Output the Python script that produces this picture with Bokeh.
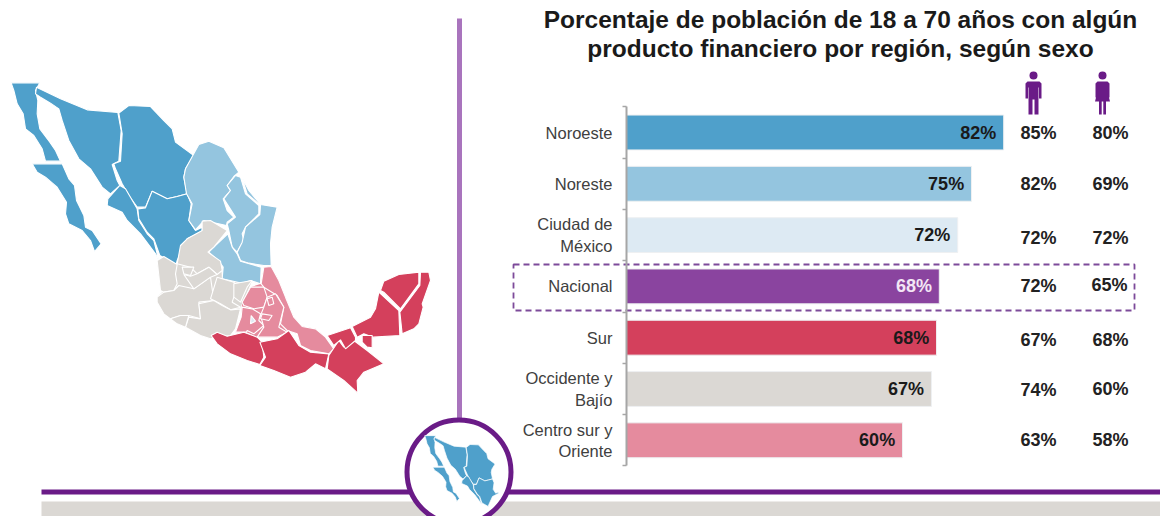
from bokeh.embed import file_html
from bokeh.resources import INLINE
from bokeh.plotting import figure
from bokeh.models import Range1d, LinearAxis, FixedTicker
from bokeh.core.properties import value

categories = ["Noroeste", "Noreste", "Ciudad de\nMéxico", "Nacional", "Sur", "Occidente y\nBajío", "Centro sur y\nOriente"]
totals = [82, 75, 72, 68, 67.4, 66.3, 60]
total_labels = ["82%", "75%", "72%", "68%", "68%", "67%", "60%"]
men = ["85%", "82%", "72%", "72%", "67%", "74%", "63%"]
women = ["80%", "69%", "72%", "65%", "68%", "60%", "58%"]
bar_colors = ["#4fa0cb", "#94c5df", "#ddeaf3", "#8a449f", "#d4405c", "#dbd8d4", "#e58b9e"]
label_colors = ["#1a1a1a", "#1a1a1a", "#1a1a1a", "#f3e6f5", "#1a1a1a", "#1a1a1a", "#1a1a1a"]
title_lines = "Porcentaje de población de 18 a 70 años con algún\nproducto financiero por región, según sexo"

BLUE, LBLUE, GRAY, PINK, RED = "#4fa0cb", "#94c5df", "#dbd8d4", "#e58b9e", "#d4405c"

noroeste = [
    [(32,37),(118,37),(105,60),(112,90),(110,130),(118,175),(148,215),(165,240),(180,272),(135,272),(125,235),(100,195),(75,175),(68,130),(50,100),(40,60)],
    [(95,280),(185,280),(205,325),(222,345),(228,390),(250,435),(255,470),(275,480),(302,520),(282,543),(270,510),(245,480),(205,460),(195,430),(198,395),(170,350),(135,320),(110,305)],
    [(108,50),(180,85),(260,118),(352,126),(362,180),(355,272),(335,282),(350,330),(358,345),(330,370),(305,350),(270,295),(235,265),(205,210),(185,150),(175,115),(150,98),(120,80),(105,70)],
    [(355,128),(385,105),(450,108),(490,150),(515,175),(525,215),(580,255),(555,295),(550,320),(560,370),(530,378),(500,385),(455,362),(435,410),(410,410),(385,375),(365,340),(345,295),(340,280),(360,272),(365,190)],
    [(358,345),(375,355),(410,415),(415,450),(440,490),(460,510),(475,570),(465,550),(420,490),(380,450),(365,425),(320,405),(322,385)],
    [(435,412),(455,362),(500,385),(530,378),(560,370),(572,400),(565,450),(585,480),(605,470),(605,482),(560,505),(530,570),(527,582),(478,555),(460,505),(440,485),(415,445),(412,415)],
]
noreste = [
    [(555,295),(595,222),(625,212),(670,232),(715,305),(700,318),(680,345),(690,360),(668,385),(680,420),(700,440),(680,455),(678,465),(610,450),(585,478),(565,450),(575,400),(558,370),(550,320)],
    [(705,315),(720,320),(735,370),(775,405),(775,430),(735,470),(725,490),(730,510),(715,535),(710,545),(695,530),(685,480),(680,460),(705,440),(670,385),(690,360),(680,345)],
    [(725,322),(745,360),(780,402),(830,410),(815,470),(810,520),(812,585),(790,585),(745,578),(720,570),(710,545),(725,515),(735,470),(778,432),(780,405),(740,370)],
    [(682,490),(695,530),(710,550),(720,572),(782,590),(780,640),(750,630),(725,638),(665,625),(668,590),(655,572),(625,545),(640,530)],
]
occidente_base = [[(605,452),(630,450),(680,480),(640,530),(622,545),(660,572),(665,625),(725,638),(755,630),(720,710),(705,775),(690,795),(630,805),(600,795),(555,770),(530,760),(510,745),(490,730),(470,695),(470,680),(490,660),(480,660),(470,570),(490,558),(530,582),(540,525),(560,505),(605,480)]]
occidente = [
    [(605,452),(630,450),(680,480),(640,530),(622,545),(660,572),(665,600),(650,612),(625,590),(590,610),(570,590),(530,580),(540,525),(560,505),(605,480)],
    [(470,570),(490,558),(530,582),(525,610),(530,640),(520,660),(490,665),(480,660)],
    [(545,590),(580,590),(570,615),(550,610)],
    [(470,680),(490,665),(520,660),(535,645),(580,655),(630,620),(640,690),(595,695),(600,745),(565,735),(540,735),(510,745),(490,730),(470,695)],
    [(580,655),(550,612),(570,617),(590,610),(625,590),(650,612),(630,620)],
    [(630,685),(650,620),(700,635),(710,650),(695,695),(720,710),(690,718),(660,700)],
    [(700,640),(755,630),(740,650),(720,695),(700,680)],
    [(595,700),(640,690),(665,705),(690,718),(720,715),(705,775),(690,795),(630,805),(600,795),(555,770),(565,740),(600,745)],
    [(510,745),(540,735),(565,735),(555,770),(530,760)],
]
centro_base = [[(790,590),(812,588),(835,630),(855,680),(880,740),(905,768),(945,775),(975,800),(1000,835),(985,850),(930,840),(900,825),(890,790),(860,780),(830,800),(770,800),(738,785),(705,785),(722,740),(725,695),(750,650),(782,640)]]
centro = [
    [(790,590),(812,588),(835,630),(855,680),(880,740),(905,768),(945,775),(975,800),(1000,835),(985,850),(930,840),(900,825),(890,790),(860,780),(840,760),(850,710),(830,675),(790,650),(782,640)],
    [(725,695),(750,650),(790,650),(800,680),(790,710),(760,715),(730,705)],
    [(725,710),(755,715),(780,730),(775,750),(790,765),(760,790),(740,780),(738,785),(705,785),(722,740)],
    [(800,680),(825,670),(850,710),(835,770),(860,785),(830,800),(770,800),(790,770),(780,735),(790,710)],
    [(785,730),(815,735),(805,750),(780,745)],
    [(800,685),(815,680),(820,700),(805,705)],
]
cdmx = [[(752,735),(765,752),(750,760)]]
sur = [
    [(632,795),(650,785),(680,797),(730,785),(770,800),(785,815),(790,860),(778,882),(740,870),(690,850),(650,820)],
    [(778,815),(830,805),(865,780),(895,825),(930,845),(985,850),(975,895),(945,880),(915,905),(870,920),(820,900),(778,885),(795,860)],
    [(985,855),(1015,810),(1030,830),(1060,810),(1100,840),(1150,880),(1090,905),(1070,930),(1072,968),(1030,930),(980,895)],
    [(980,795),(1050,772),(1065,800),(1065,810),(1035,835),(1020,808),(1000,825)],
    [(1055,768),(1110,740),(1125,715),(1135,665),(1195,720),(1198,795),(1118,800),(1090,790),(1070,800)],
    [(1085,795),(1115,795),(1115,832),(1100,830),(1085,815)],
    [(1140,660),(1150,632),(1195,612),(1255,605),(1255,640),(1200,715),(1150,665)],
    [(1260,605),(1285,605),(1290,630),(1265,700),(1268,710),(1255,760),(1240,775),(1205,790),(1198,725),(1258,645)],
]
man_icon = [(-6,10),(6,10),(8,12),(8,27),(5.5,27),(5.5,16),(5,16),(5,43),(1,43),(1,28),(-1,28),(-1,43),(-5,43),(-5,16),(-5.5,16),(-5.5,27),(-8,27),(-8,12)]
woman_icon = [(-5,10),(5,10),(7,12),(7,26),(5,26),(4.5,18),(7.5,30),(3.5,30),(3.5,43),(0.8,43),(0.8,30),(-0.8,30),(-0.8,43),(-3.5,43),(-3.5,30),(-7.5,30),(-4.5,18),(-5,26),(-7,26),(-7,12)]

W, H = 1160, 516
X0 = 626
p = figure(width=W, height=H, output_backend="svg", toolbar_location=None,
           x_range=Range1d(-X0 / 4.6, (W - X0) / 4.6),
           y_range=Range1d((H - 132) / 51.3, -132 / 51.3),
           x_axis_type=None, y_axis_type=None, min_border=0,
           outline_line_color=None)
p.grid.visible = False
p.extra_x_ranges["px"] = Range1d(0, W)
p.extra_y_ranges["px"] = Range1d(H, 0)
PK = dict(x_range_name="px", y_range_name="px")
FONT = value("Liberation Sans")

# bottom band, rule, divider
p.quad(left=[41], right=[W], top=[501], bottom=[H], fill_color="#dbd8d4", line_color=None, **PK)
p.line([459, 459], [18, 420], line_color="#a974bd", line_width=5, **PK)
p.line([41, W], [491.5, 491.5], line_color="#6a1b87", line_width=5, **PK)
p.circle(x=[458.5], y=[471.5], radius=52, radius_units="screen", fill_color="white",
         line_color="#6a1b87", line_width=5, **PK)


def conv(polys):
    return [[zx / 3 for zx, zy in q] for q in polys], [[70 + zy / 3 for zx, zy in q] for q in polys]


for polys, col in [(occidente_base, GRAY), (centro_base, PINK)]:
    xs, ys = conv(polys)
    p.patches(xs, ys, fill_color=col, line_color=None, **PK)
for polys, col in [(noroeste, BLUE), (noreste, LBLUE), (occidente, GRAY), (centro, PINK), (cdmx, "#ddeaf3"), (sur, RED)]:
    xs, ys = conv(polys)
    p.patches(xs, ys, fill_color=col, line_color="white", line_width=1.1, **PK)

# small badge map
xs, ys = conv(noroeste)
p.patches([[424 + (v - 10) * 0.385 for v in q] for q in xs],
          [[435 + (v - 82) * 0.39 for v in q] for q in ys],
          fill_color=BLUE, line_color="white", line_width=0.7, **PK)

# highlight box
p.quad(left=[513], right=[1134], top=[264], bottom=[310], fill_color=None,
       line_color="#7d4a9a", line_width=1.8, line_dash="6 4", **PK)

rows = list(range(len(categories)))
p.hbar(y=rows, left=0, right=totals, height=0.68, fill_color=bar_colors, line_color="#eef0f2", line_width=1)

ax = LinearAxis(fixed_location=0, bounds=(-0.5, 6.5),
                ticker=FixedTicker(ticks=rows, minor_ticks=[r - 0.5 for r in rows] + [6.5]),
                major_label_overrides={r: c for r, c in zip(rows, categories)},
                axis_line_color="#a6a6a6", axis_line_width=2,
                major_tick_line_color=None, major_tick_out=0, major_tick_in=0,
                minor_tick_line_color="#a6a6a6", minor_tick_line_width=1.5,
                minor_tick_out=4, minor_tick_in=0,
                major_label_standoff=10,
                major_label_text_font="Liberation Sans",
                major_label_text_font_size="16.5px",
                major_label_text_color="#404040")
p.add_layout(ax, "left")

p.text(x=[t - 1.6 for t in totals], y=rows, text=total_labels, text_color=label_colors,
       text_font=FONT, text_font_style="bold", text_font_size="18px",
       text_align="right", text_baseline="middle")

p.text(x=[1038] * 7, y=[132.5, 183, 237, 285, 339.5, 389, 439], text=men, text_color="#222222",
       text_font=FONT, text_font_style="bold", text_font_size="18px",
       text_align="center", text_baseline="middle", **PK)
p.text(x=[1110, 1110, 1110, 1109, 1110, 1110, 1110], y=[132.5, 183, 237, 284, 339.5, 388, 439], text=women,
       text_color="#222222", text_font=FONT, text_font_style="bold", text_font_size="18px",
       text_align="center", text_baseline="middle", **PK)

p.text(x=[840], y=[33.5], text=[title_lines], text_color="#1a1a1a", text_font=FONT, text_font_style="bold",
       text_font_size="24.5px", text_align="center", text_baseline="middle", text_line_height=1.1, **PK)

# sex pictograms
for cx, shape in [(1033, man_icon), (1102, woman_icon)]:
    p.patch([cx + a for a, b in shape], [71 + b for a, b in shape], fill_color="#6a1b87", line_color=None, **PK)
    p.circle(x=[cx], y=[75], radius=4, radius_units="screen", fill_color="#6a1b87", line_color=None, **PK)

open("out.html", "w").write(file_html(p, INLINE))
